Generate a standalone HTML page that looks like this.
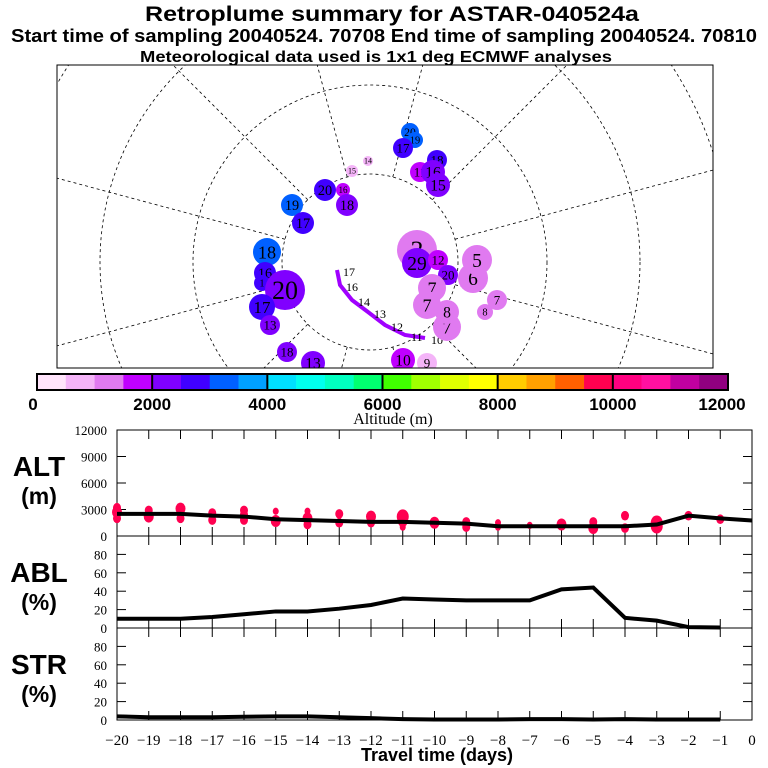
<!DOCTYPE html>
<html><head><meta charset="utf-8"><style>
body{margin:0;background:#fff;overflow:hidden;}
svg{display:block;font-family:"Liberation Sans",sans-serif;}
</style></head><body>
<svg id="s" width="768" height="768" viewBox="0 0 768 768">
<g font-weight="bold" text-anchor="middle">
<text x="392" y="21" font-size="21" textLength="494" lengthAdjust="spacingAndGlyphs">Retroplume summary for ASTAR-040524a</text>
<text x="384" y="42" font-size="18" textLength="746" lengthAdjust="spacingAndGlyphs">Start time of sampling 20040524. 70708     End time of sampling 20040524. 70810</text>
<text x="376" y="62" font-size="16" textLength="472" lengthAdjust="spacingAndGlyphs">Meteorological data used is 1x1 deg ECMWF analyses</text>
</g>
<g id="map"></g>
<g id="cbar"></g>
<g id="panels"></g>
</svg>
<script>
const NS='http://www.w3.org/2000/svg';
function mk(p,t,a){const e=document.createElementNS(NS,t);for(const k in a)e.setAttribute(k,a[k]);p.appendChild(e);return e;}
// ---- data ----
const days=[-20,-19,-18,-17,-16,-15,-14,-13,-12,-11,-10,-9,-8,-7,-6,-5,-4,-3,-2,-1,0];
const altLine=[2500,2500,2500,2300,2200,1900,1800,1700,1600,1600,1500,1400,1100,1100,1100,1100,1100,1300,2300,2000,1750];
const ablDays=[-20,-19,-18,-17,-16,-15,-14,-13,-12,-11,-10,-9,-8,-7,-6,-5,-4,-3,-2,-1];
const ablVals=[10,10,10,12,15,18,18,21,25,32,31,30,30,30,42,44,11,8,1,0.5];
const strVals=[4,3,3,3,3.5,4,4,3,2,1,0.5,0.5,0.5,1,1,0.5,1,0.5,0.5,0.5];
const dotDays=[-20,-20,-20,-19,-19,-18,-18,-17,-17,-16,-16,-16,-15,-15,-14,-14,-14,-13,-13,-12,-12,-11,-11,-11,-10,-9,-9,-8,-8,-7,-6,-5,-5,-4,-4,-3,-3,-2,-1];
const dotAlts=[3200,2700,2000,2900,2200,3100,2000,2600,1800,2900,2400,1800,2800,1700,2800,2000,1300,2500,1500,2200,1500,2200,1700,1000,1500,1600,1000,1500,1000,1200,1300,1600,900,2300,900,1500,1100,2300,1900];
const dotSizes=[4,5,4,4,5,5,4,4,4,4,4,4,3,5,3,5,4,4,4,5,4,6,5,3,5,4,4,3,3,3,5,4,5,4,4,6,6,4,4];
const cbarTicks=[0,2000,4000,6000,8000,10000,12000];
const cbarColors=['#ffe4fb','#f4b4f8','#e07af0','#c000ff','#8000ff','#4000ff','#0060ff','#00a0ff','#00e0ff','#00ffee','#00ffc0','#00ff70','#40ff00','#a0ff00','#e0ff00','#ffff00','#ffcc00','#ffa000','#ff6000','#ff0050','#ff0080','#ff10a0','#c000a0','#900080'];
const plumeX=[410,415,403,437,420,433,438,368,352,325,343,347,292,303,267,265,262,285,262,270,417,417,438,448,473,477,432,427,447,447,497,485,403,427,287,313];
const plumeY=[132,140,148,160,172,172,185,161,171,190,190,205,205,223,252,273,283,290,307,325,250,263,260,275,278,260,288,305,327,312,300,312,360,363,352,363];
const plumeR=[9,8,10,10,10,12,12,5,6,11,7,11,11,11,14,11,8,20,13,10,20,15,10,10,15,15,14,14,14,12,10,8,12,10,10,12];
const plumeC=[6,6,5,5,3,4,4,1,1,5,3,4,6,5,6,5,5,4,5,4,2,4,3,4,2,2,2,2,2,2,2,2,3,1,4,4];
const plumeL=['20','19','17','18','11','16','15','14','15','20','16','18','19','17','18','16','1','20','17','13','3','29','12','20','6','5','7','7','7','8','7','8','10','9','18','13'];
const trajX=[337,340,352,368,385,405,425];
const trajY=[270,285,300,312,325,335,338];
const trajL=['17','16','14','13','12','11','10'];
// ---- scales ----
const X=d=>117+(d+20)*(752-117)/20;
const yAlt=v=>536-v*106/12000;
const yAbl=v=>628-v*0.92;
const yStr=v=>720-v*0.92;
// ---- map ----
const map=document.getElementById('map');
const cp=mk(map,'clipPath',{id:'mc'});mk(cp,'rect',{x:57,y:65,width:656,height:303});
const mg=mk(map,'g',{'clip-path':'url(#mc)'});
const cx=370,cy=262;
[88,177,270,360,460].forEach(r=>{const c=mk(mg,'circle',{cx,cy,r,fill:'none',stroke:'#000','stroke-width':0.8,'stroke-dasharray':'3,3'});});
for(let a=15;a<375;a+=30){const t=a*Math.PI/180;const l=mk(mg,'line',{x1:cx+88*Math.cos(t),y1:cy+88*Math.sin(t),x2:cx+600*Math.cos(t),y2:cy+600*Math.sin(t),stroke:'#000','stroke-width':0.8,'stroke-dasharray':'3,3'});}
const traj=mk(mg,'polyline',{points:trajX.map((x,i)=>x+','+trajY[i]).join(' '),fill:'none',stroke:'#a000ff','stroke-width':4});

for(let i=0;i<trajX.length;i++){const t=mk(mg,'text',{x:trajX[i]+6,y:trajY[i]+6,'font-size':12,'font-family':'Liberation Serif'});t.textContent=trajL[i];}
for(let i=0;i<plumeX.length;i++){
 const c=mk(mg,'circle',{cx:plumeX[i],cy:plumeY[i],r:plumeR[i],fill:cbarColors[plumeC[i]]});
 
 const t=mk(mg,'text',{x:plumeX[i],y:plumeY[i]+plumeR[i]*0.45,'font-size':Math.max(8,plumeR[i]*1.3),'text-anchor':'middle','font-family':'Liberation Serif'});
 t.textContent=plumeL[i];
}
const mb=mk(map,'rect',{x:57,y:65,width:656,height:303,fill:'none',stroke:'#000','stroke-width':1});

// ---- colorbar ----
const cb=document.getElementById('cbar');
const cx0=37,cx1=728,cw=(cx1-cx0)/cbarColors.length;
cbarColors.forEach((c,i)=>{const r=mk(cb,'rect',{x:cx0+i*cw,y:374,width:cw+0.3,height:16,fill:c});});
mk(cb,'rect',{x:cx0,y:374,width:cx1-cx0,height:16,fill:'none',stroke:'#000','stroke-width':2});
cbarTicks.forEach(v=>{const x=cx0+v/12000*(cx1-cx0);
 if(v>0&&v<12000)mk(cb,'line',{x1:x,y1:374,x2:x,y2:390,stroke:'#000','stroke-width':2});
 const t=mk(cb,'text',{x:v===0?33:(v===12000?722:x),y:410,'font-size':17,'font-weight':'bold','text-anchor':'middle'});t.textContent=v;
 });
const at=mk(cb,'text',{x:393,y:424,'font-size':16,'text-anchor':'middle','font-family':'Liberation Serif'});at.textContent='Altitude (m)';

// ---- panels ----
const P=document.getElementById('panels');
function panel(name,y0,y1,ticks,yf,lab1,lab2){
 const g=mk(P,'g',{});
 mk(g,'rect',{x:117,y:y0,width:635,height:y1-y0,fill:'none',stroke:'#000','stroke-width':1});
 days.forEach(d=>{if(d>-20&&d<0){mk(g,'line',{x1:X(d),y1:y0,x2:X(d),y2:y0+9,stroke:'#000'});mk(g,'line',{x1:X(d),y1:y1,x2:X(d),y2:y1-9,stroke:'#000'});}});
 ticks.forEach(v=>{const y=yf(v);mk(g,'line',{x1:117,y1:y,x2:126,y2:y,stroke:'#000'});mk(g,'line',{x1:752,y1:y,x2:743,y2:y,stroke:'#000'});
  const t=mk(g,'text',{x:107,y:y+5,'font-size':13,'text-anchor':'end','font-family':'Liberation Serif'});t.textContent=v;});
 const a=mk(g,'text',{x:39,y:y0+46,'font-size':28,'font-weight':'bold','text-anchor':'middle'});a.textContent=lab1;
 const b=mk(g,'text',{x:39,y:y0+74,'font-size':23,'font-weight':'bold','text-anchor':'middle'});b.textContent=lab2;
 return g;}
const gA=panel('alt',430,536,[0,3000,6000,9000,12000],yAlt,'ALT','(m)');
const gB=panel('abl',536,628,[0,20,40,60,80],yAbl,'ABL','(%)');
const gC=panel('str',628,720,[0,20,40,60,80],yStr,'STR','(%)');
for(let i=0;i<dotDays.length;i++){const c=mk(gA,'ellipse',{cx:X(dotDays[i]),cy:yAlt(dotAlts[i]),rx:dotSizes[i],ry:dotSizes[i]*1.2,fill:'#ff0050'});}
function line(g,xs,vs,yf,n){const l=mk(g,'polyline',{points:xs.map((d,i)=>X(d)+','+yf(vs[i])).join(' '),fill:'none',stroke:'#000','stroke-width':4});}
line(gA,days,altLine,yAlt,'altitude-median-line');
line(gB,ablDays,ablVals,yAbl,'abl-fraction-line');
line(gC,ablDays,strVals,yStr,'stratosphere-fraction-line');
days.forEach(d=>{const t=mk(P,'text',{x:X(d),y:745,'font-size':15,'text-anchor':'middle','font-family':'Liberation Serif'});t.textContent=d===0?'0':'\u2212'+(-d);});
const xt=mk(P,'text',{x:437,y:761,'font-size':18,'font-weight':'bold','text-anchor':'middle'});xt.textContent='Travel time (days)';

</script>
</body></html>
